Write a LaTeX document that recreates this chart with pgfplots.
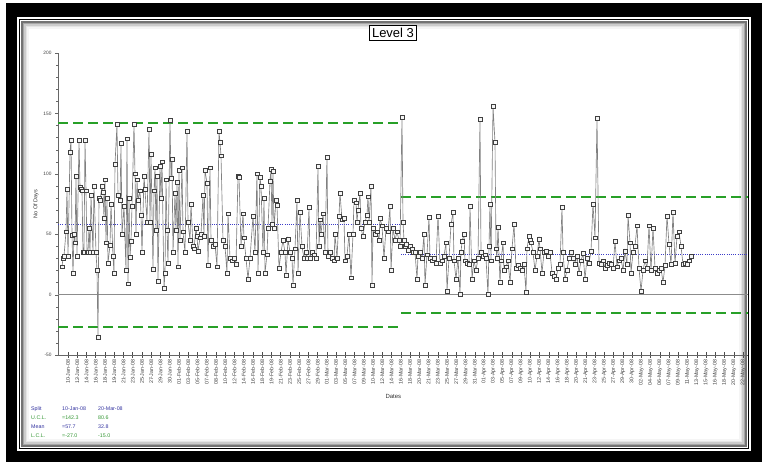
\documentclass[border=0pt]{standalone}
\usepackage{pgfplots}
\pgfplotsset{compat=1.18}
\usepackage{pgfplotstable}
\usepackage{fontspec}
\setmainfont{Liberation Sans}
\definecolor{ucl}{RGB}{40,160,40}
\definecolor{meanc}{RGB}{60,60,200}
\definecolor{tblue}{RGB}{50,50,160}
\definecolor{tgreen}{RGB}{50,150,50}

\pgfplotstableread{
x y
62 23
63 30
64 32
66 52
67 87
68 32
70 118
71 128
72 49
73 18
74 50
75 43
76 98
77 32
79 128
80 89
81 87
82 86
83 35
84 35
85 128
86 86
87 35
88 35
89 55
90 35
91 82
93 35
94 90
96 35
97 20
98 -35
99 80
100 78
102 90
103 85
104 63
105 95
106 43
107 80
108 26
110 41
111 75
113 32
114 18
115 108
117 141
118 82
120 78
121 125
122 50
124 73
126 20
127 129
128 9
129 80
130 31
131 44
132 73
134 141
135 100
136 50
137 95
138 78
140 86
141 66
142 35
144 98
145 87
147 60
149 137
150 60
151 116
153 21
154 86
155 105
156 53
157 98
158 11
160 106
161 80
162 110
164 5
165 18
166 95
167 53
168 26
170 144
171 96
172 112
173 35
175 84
176 53
177 93
178 23
179 103
180 45
182 105
183 52
185 35
187 135
188 60
190 45
191 75
193 40
194 38
196 55
197 48
198 36
200 47
201 50
203 82
204 48
205 103
207 92
208 24
210 105
211 45
213 40
215 42
217 23
219 135
220 126
221 115
223 45
225 40
227 18
228 67
230 30
232 28
234 30
236 25
238 98
239 97
241 40
243 67
244 47
246 30
248 13
250 30
253 65
255 35
257 100
258 18
260 97
261 90
263 35
264 80
265 18
267 33
268 55
270 94
271 104
272 58
273 102
274 55
276 78
277 74
279 22
281 35
283 45
285 35
286 16
288 46
290 35
292 30
293 8
295 38
297 78
298 18
300 68
302 40
304 30
306 35
307 30
309 72
310 30
312 35
314 33
316 30
318 106
319 40
320 62
321 50
323 67
325 35
327 114
328 32
330 35
332 30
334 28
335 50
337 30
339 65
340 84
342 62
344 63
345 28
347 32
349 50
351 14
353 50
354 78
356 76
357 60
358 70
360 84
361 55
363 48
365 60
367 66
368 81
369 60
371 90
372 8
373 55
375 50
377 52
379 45
380 63
382 57
384 30
386 55
388 52
390 73
391 20
393 55
395 45
397 52
399 45
400 40
402 147
403 60
404 45
405 40
406 42
408 37
410 40
412 38
413 35
415 35
417 13
418 32
420 35
422 30
424 50
425 8
427 33
429 64
430 30
432 28
434 30
436 26
438 65
440 26
442 28
444 32
446 43
447 3
449 30
451 58
453 68
454 28
456 13
458 30
460 0
461 35
462 44
464 50
465 28
467 26
469 25
470 73
472 13
474 28
476 20
478 30
480 145
481 35
483 32
485 33
486 30
488 0
489 40
490 75
491 28
493 156
495 126
496 38
497 30
498 56
500 10
501 28
503 43
504 20
506 23
508 28
510 10
512 38
514 58
516 22
518 24
520 22
522 20
524 25
526 2
527 38
529 48
530 45
531 43
533 35
535 20
537 32
539 46
540 38
542 18
544 35
546 36
548 32
550 35
552 18
554 15
556 13
558 22
560 25
562 72
563 35
565 13
567 20
569 30
571 35
573 30
575 25
577 32
579 18
581 28
583 34
585 13
587 30
589 26
591 36
593 75
595 47
597 146
599 26
601 25
603 28
605 22
607 24
609 26
611 25
613 22
615 44
617 23
619 28
621 30
623 20
625 36
627 25
628 66
630 43
631 18
633 35
635 40
637 57
639 22
641 3
643 20
645 28
647 22
649 57
651 20
653 55
655 22
657 18
659 20
661 22
663 10
665 24
667 65
669 42
671 25
673 68
675 26
677 48
679 52
681 40
683 25
685 26
687 25
689 28
691 32
}\datatable

\begin{document}
\begin{tikzpicture}
\useasboundingbox (0,0) rectangle (764pt,464pt);
% window frame
\fill[black] (6pt,2pt) rectangle (762pt,461pt);
\fill[white] (17pt,13pt) rectangle (751pt,447pt);
\draw[black,line width=1.5pt] (19.5pt,15.5pt) rectangle (748.5pt,444.5pt);
\draw[black!55,line width=1.6pt] (21.8pt,17.8pt) rectangle (746.2pt,442.2pt);
\draw[black!35,line width=1.6pt] (23.4pt,19.4pt) rectangle (744.6pt,440.6pt);
\draw[black!20,line width=1.6pt] (25pt,21pt) rectangle (743pt,439pt);
\draw[black!10,line width=1.6pt] (26.6pt,22.6pt) rectangle (741.4pt,437.4pt);
\draw[black!4,line width=1.6pt] (28.2pt,24.2pt) rectangle (739.8pt,435.8pt);

% title
\node[draw=black,line width=0.7pt,fill=white,inner sep=2.5pt,font=\fontsize{13}{14}\selectfont] at (393pt,431pt) {Level 3};

\begin{axis}[
  at={(58pt,109pt)}, anchor=south west,
  scale only axis, width=690pt, height=302pt,
  xmin=58, xmax=748, ymin=-50, ymax=200,
  axis x line*=bottom, axis y line*=left,
  axis line style={-, black!60, line width=0.9pt},
  /pgf/number format/assume math mode=true,
  ytick={-50,0,50,100,150,200},
  minor y tick num=4,
  y tick label style={font=\fontsize{4.8}{5}\selectfont, text=black!75},
  ytick style={black!60},
  minor tick length=2pt, major tick length=3pt,
  xtick={68,77.2466,...,744},
  xticklabels={10-Jan-08,12-Jan-08,14-Jan-08,16-Jan-08,18-Jan-08,19-Jan-08,21-Jan-08,23-Jan-08,25-Jan-08,27-Jan-08,29-Jan-08,30-Jan-08,01-Feb-08,03-Feb-08,05-Feb-08,07-Feb-08,08-Feb-08,10-Feb-08,12-Feb-08,14-Feb-08,16-Feb-08,18-Feb-08,19-Feb-08,21-Feb-08,23-Feb-08,25-Feb-08,27-Feb-08,29-Feb-08,01-Mar-08,03-Mar-08,05-Mar-08,07-Mar-08,09-Mar-08,10-Mar-08,12-Mar-08,14-Mar-08,16-Mar-08,18-Mar-08,20-Mar-08,21-Mar-08,23-Mar-08,25-Mar-08,27-Mar-08,29-Mar-08,31-Mar-08,01-Apr-08,03-Apr-08,05-Apr-08,07-Apr-08,09-Apr-08,10-Apr-08,12-Apr-08,14-Apr-08,16-Apr-08,18-Apr-08,20-Apr-08,21-Apr-08,23-Apr-08,25-Apr-08,27-Apr-08,29-Apr-08,30-Apr-08,02-May-08,04-May-08,06-May-08,07-May-08,09-May-08,11-May-08,13-May-08,15-May-08,16-May-08,18-May-08,20-May-08,22-May-08},
  x tick label style={rotate=90, anchor=east, font=\fontsize{5.3}{5.5}\selectfont, text=black!75},
  xtick style={black!70, line width=0.5pt},
  x tick style={/pgfplots/major tick length=5pt},
  tick align=outside,
  xtick align=center,
  xlabel={Dates},
  xlabel style={font=\fontsize{6}{6}\selectfont, text=black!80, at={(ticklabel cs:0.486)}, anchor=north, yshift=-2pt},
  ylabel={No Of Days},
  ylabel style={font=\fontsize{5.5}{6}\selectfont, text=black!80, yshift=-2pt},
  clip=false,
]
% zero line
\addplot[black!45, line width=1.4pt] coordinates {(58,0) (748,0)};
% control limits
\addplot[ucl, line width=1.6pt, dash pattern=on 10pt off 5pt] coordinates {(58,142.3) (401,142.3)};
\addplot[ucl, line width=1.6pt, dash pattern=on 10pt off 5pt] coordinates {(401,80.6) (748,80.6)};
\addplot[ucl, line width=1.6pt, dash pattern=on 10pt off 5pt] coordinates {(58,-27.0) (401,-27.0)};
\addplot[ucl, line width=1.6pt, dash pattern=on 10pt off 5pt] coordinates {(401,-15.0) (748,-15.0)};
% mean
\addplot[meanc, line width=1pt, dash pattern=on 1pt off 1.2pt] coordinates {(58,57.7) (401,57.7)};
\addplot[meanc, line width=1pt, dash pattern=on 1pt off 1.2pt] coordinates {(401,32.8) (748,32.8)};
% data
\addplot[black!50, line width=0.65pt, mark=square*, mark size=1.9pt,
  mark options={solid, draw=black!75, fill=black!4, line width=0.5pt}] table[x=x,y=y] {\datatable};
\end{axis}

% statistics table
\begin{scope}[every node/.style={anchor=west, inner sep=0pt, font=\fontsize{5.3}{5.5}\selectfont}]
\node[text=tblue]  at (31pt,55pt) {Split};
\node[text=tblue]  at (62pt,55pt) {10-Jan-08};
\node[text=tblue]  at (98pt,55pt) {20-Mar-08};
\node[text=tgreen] at (31pt,46pt) {U.C.L.};
\node[text=tgreen] at (62pt,46pt) {=142.3};
\node[text=tgreen] at (98pt,46pt) {80.6};
\node[text=tblue]  at (31pt,37pt) {Mean};
\node[text=tblue]  at (62pt,37pt) {=57.7};
\node[text=tblue]  at (98pt,37pt) {32.8};
\node[text=tgreen] at (31pt,28pt) {L.C.L.};
\node[text=tgreen] at (62pt,28pt) {=-27.0};
\node[text=tgreen] at (98pt,28pt) {-15.0};
\end{scope}
\end{tikzpicture}
\end{document}
